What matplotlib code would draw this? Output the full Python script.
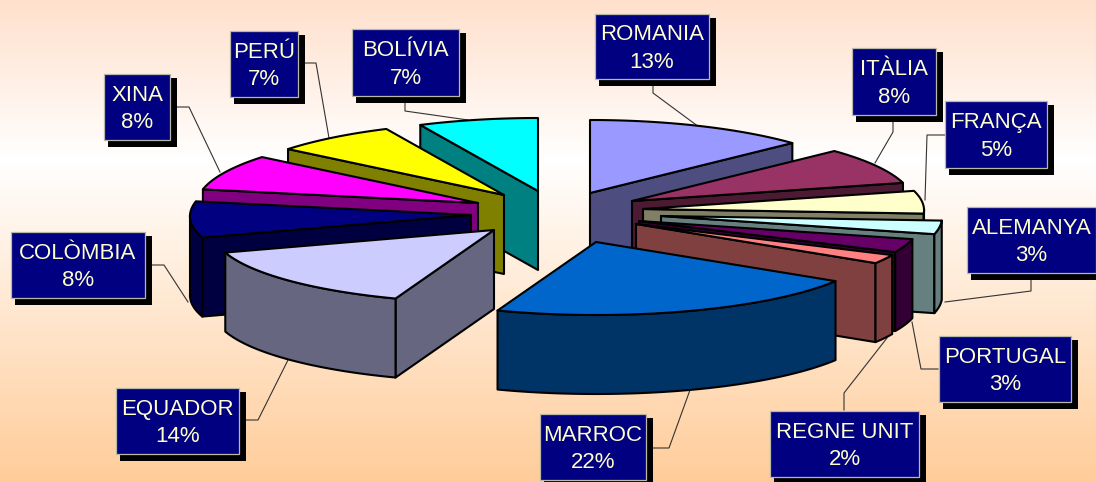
import numpy as np
import matplotlib
matplotlib.use("Agg")
import matplotlib.pyplot as plt
from matplotlib.colors import to_rgb
from matplotlib.patches import Polygon, Rectangle

# pie data, clockwise from 12 o'clock
countries = ["ROMANIA", "ITÀLIA", "FRANÇA", "ALEMANYA", "PORTUGAL", "REGNE UNIT",
             "MARROC", "EQUADOR", "COLÒMBIA", "XINA", "PERÚ", "BOLÍVIA"]
# labels show them rounded
shares = [13, 8, 5, 3, 3, 2, 21.6, 14.4, 8, 7.83, 7.17, 7]

top_colors = ["#9999FF", "#993366", "#FFFFCC", "#CCFFFF", "#660066", "#FF8080",
              "#0066CC", "#CCCCFF", "#000080", "#FF00FF", "#FFFF00", "#00FFFF"]

# where each exploded slice has its tip, in pixels
tips = [(590, 193), (632, 201), (643, 209), (661, 216), (639, 221), (636, 224),
        (596, 242), (494, 230), (471, 215), (478, 203), (504, 195), (538, 191)]

# label boxes: left, top, right, bottom
boxes = [(595, 14, 709, 79), (852, 48, 936, 115), (945, 101, 1047, 168),
         (967, 207, 1096, 273), (939, 336, 1071, 402), (770, 411, 919, 477),
         (540, 414, 646, 480), (116, 388, 239, 454), (11, 232, 145, 298),
         (104, 74, 170, 140), (230, 31, 298, 97), (352, 29, 459, 96)]

leaders = [[(653, 84), (653, 93), (699, 127)],
           [(893, 120), (893, 132), (875, 163)],
           [(945, 135), (927, 135), (925, 200)],
           [(1031, 277), (1031, 291), (945, 302)],
           [(938, 369), (921, 369), (912, 322)],
           [(844, 410), (844, 393), (887, 338)],
           [(650, 448), (669, 448), (690, 390)],
           [(245, 420), (258, 420), (288, 360)],
           [(152, 265), (164, 265), (188, 302)],
           [(177, 107), (189, 107), (220, 172)],
           [(305, 63), (316, 63), (329, 138)],
           [(405, 102), (405, 111), (468, 120)]]

RY = 73
DEPTH = 79

plt.rcParams["font.family"] = ["Liberation Sans", "DejaVu Sans"]

fig = plt.figure(figsize=(10.96, 4.82), dpi=100)
ax = fig.add_axes([0, 0, 1, 1])
ax.set_xlim(0, 1096)
ax.set_ylim(482, 0)
ax.axis("off")

# background fade, white band a third of the way down
rows = np.arange(482)
blend = np.interp(rows, [0, 160, 482], [1, 0, 1])[:, None]
shade = np.array(to_rgb("#FFCC99"))[None, :]
fade = np.array(to_rgb("#FFE0CC"))[None, :]
grad = np.where(rows[:, None] < 160, 1 - blend * (1 - fade), 1 - blend * (1 - shade))
ax.imshow(grad[:, None, :], extent=(0, 1096, 482, 0), aspect="auto", zorder=0)

for pts in leaders:
    ax.plot(*zip(*pts), color="#333333", lw=0.8, zorder=1)

fracs = np.array(shares) / sum(shares) * 2 * np.pi
stops = np.cumsum(fracs)
starts = stops - fracs


def rim(tip, a0, a1):
    t = np.linspace(a0, a1, max(2, int(np.degrees(a1 - a0)) + 1))
    # slightly narrower at the back, a touch of perspective
    rx = 281 - 5 * np.cos(t)
    return np.column_stack([tip[0] + rx * np.sin(t), tip[1] - RY * np.cos(t)])


def draw_slice(i, z):
    tip = np.array(tips[i], dtype=float)
    a0, a1 = starts[i], stops[i]
    col = np.array(to_rgb(top_colors[i]))
    side = col / 2
    drop = np.array([0, DEPTH])
    style = dict(edgecolor="black", lw=1.5, joinstyle="round", zorder=z)

    # flat cut faces that look towards the viewer
    for a in (a0, a1):
        show = np.sin(a) > 0 if a == a1 else np.sin(a) < 0
        if show:
            p = rim(tip, a, a)[0]
            ax.add_patch(Polygon([tip, p, p + drop, tip + drop], facecolor=side, **style))

    # curved outer wall, front half only
    f0, f1 = max(a0, np.pi / 2), min(a1, 3 * np.pi / 2)
    if f1 > f0:
        edge = rim(tip, f0, f1)
        ax.add_patch(Polygon(np.vstack([edge, edge[::-1] + drop]), facecolor=side, **style))

    ax.add_patch(Polygon(np.vstack([tip, rim(tip, a0, a1)]), facecolor=col, **style))


# back to front on each side of the gap
draw_order = [11, 10, 9, 8, 7, 0, 1, 2, 3, 4, 5, 6]
for z, i in enumerate(draw_order):
    draw_slice(i, 2 + z * 0.1)

for name, val, (x0, y0, x1, y1) in zip(countries, shares, boxes):
    ax.add_patch(Rectangle((x0 + 4, y0 + 4), x1 - x0 + 3, y1 - y0 + 3, facecolor="black",
                           edgecolor="none", zorder=5))
    ax.add_patch(Rectangle((x0, y0), x1 - x0, y1 - y0, facecolor="#000080",
                           edgecolor="#B8B8A8", lw=0.9, zorder=6))
    ax.text((x0 + x1) / 2, (y0 + y1) / 2 + 2, f"{name}\n{round(val)}%", color="#FFFFCC",
            fontsize=16, ha="center", va="center", linespacing=1.42, zorder=7)

fig.savefig("out.png", dpi=100)
